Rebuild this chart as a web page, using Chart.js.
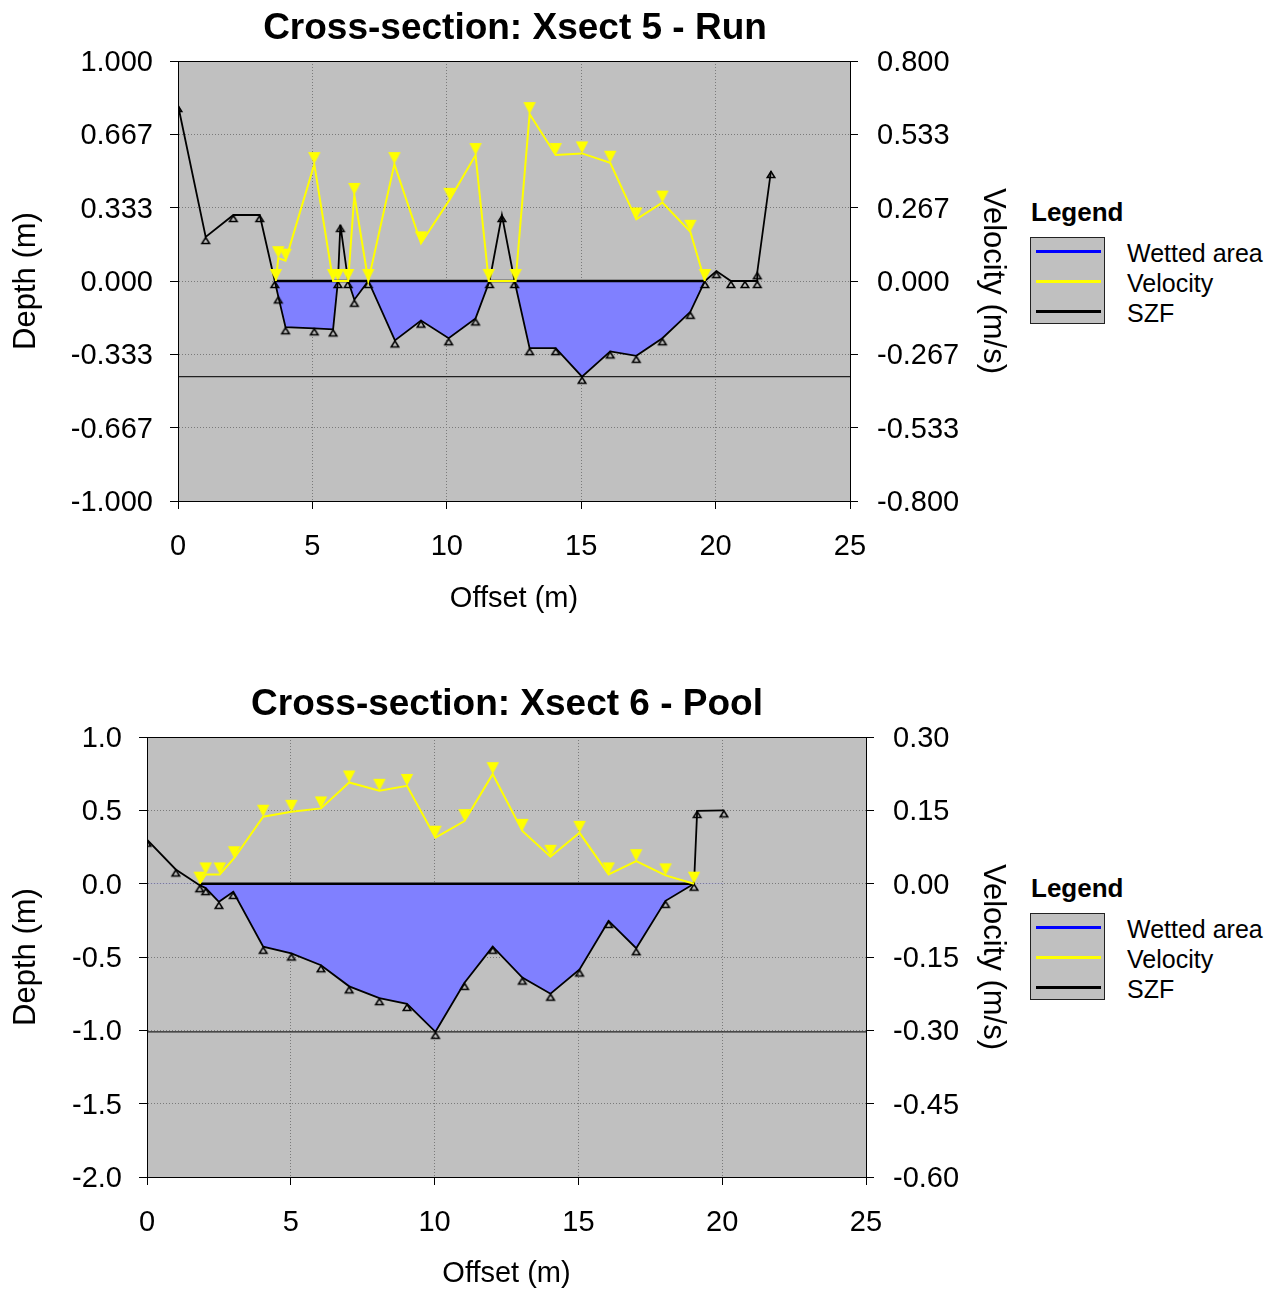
<!DOCTYPE html>
<html>
<head>
<meta charset="utf-8">
<script src="https://cdn.jsdelivr.net/npm/chart.js@4.4.1/dist/chart.umd.min.js"></script>
<style>
  html, body { margin:0; padding:0; background:#fff; }
  body { width:1281px; height:1291px; position:relative; overflow:hidden; font-family:"Liberation Sans", Arial, sans-serif; }
  canvas { position:absolute; left:0; }
  #c1 { top:0; }
  #c2 { top:640px; }
  .lg { position:absolute; left:1030px; width:250px; height:140px; }
  .lg .ttl { position:absolute; left:1px; top:1px; font-weight:bold; font-size:26px; line-height:30px; color:#000; }
  .lg .box { position:absolute; left:0; top:41px; width:73px; height:85px; background:#c0c0c0; border:1.5px solid #222; }
  .lg .ln { position:absolute; left:5px; width:65px; height:3px; }
  .lg .lab { position:absolute; left:97px; font-size:25px; line-height:30px; color:#000; white-space:nowrap; }
</style>
</head>
<body>
<canvas id="c1" width="1030" height="640"></canvas>
<canvas id="c2" width="1014" height="651"></canvas>

<div class="lg" style="top:196px;">
  <div class="ttl">Legend</div>
  <div class="box">
    <div class="ln" style="top:12px;background:#0000ff;"></div>
    <div class="ln" style="top:42px;background:#ffff00;"></div>
    <div class="ln" style="top:72px;background:#000;"></div>
  </div>
  <div class="lab" style="top:42px;">Wetted area</div>
  <div class="lab" style="top:72px;">Velocity</div>
  <div class="lab" style="top:102px;">SZF</div>
</div>
<div class="lg" style="top:872px;">
  <div class="ttl">Legend</div>
  <div class="box">
    <div class="ln" style="top:12px;background:#0000ff;"></div>
    <div class="ln" style="top:42px;background:#ffff00;"></div>
    <div class="ln" style="top:72px;background:#000;"></div>
  </div>
  <div class="lab" style="top:42px;">Wetted area</div>
  <div class="lab" style="top:72px;">Velocity</div>
  <div class="lab" style="top:102px;">SZF</div>
</div>

<script>
// ===== Data: Xsect 5 - Run =====
const title5 = 'Cross-section: Xsect 5 - Run';
const bedOffset5 = [0, 1.03, 2.06, 3.04, 3.6, 3.73, 4.0, 5.07, 5.77, 5.95, 6.04, 6.33, 6.56, 7.08, 8.07, 9.04, 10.07, 11.07, 11.59, 12.05, 12.52, 13.08, 14.05, 15.03, 16.08, 17.05, 18.02, 19.06, 19.6, 20.03, 20.57, 21.09, 21.55, 21.55, 22.06];
const bedDepth5  = [0.80, 0.20, 0.30, 0.30, 0.0, -0.07, -0.21, -0.215, -0.22, 0.0, 0.255, 0.0, -0.085, 0.0, -0.27, -0.18, -0.26, -0.17, 0.0, 0.30, 0.0, -0.305, -0.305, -0.435, -0.32, -0.34, -0.26, -0.14, 0.0, 0.045, 0.0, 0.0, 0.0, 0.04, 0.50];
const velOffset5 = [3.64, 3.73, 4.0, 5.07, 5.77, 5.95, 6.33, 6.56, 7.08, 8.05, 9.04, 10.1, 11.07, 11.56, 12.56, 13.08, 14.05, 15.03, 16.08, 17.05, 18.02, 19.06, 19.6];
const velocity5  = [0, 0.083, 0.074, 0.425, 0, 0, 0, 0.313, 0, 0.425, 0.137, 0.295, 0.458, 0, 0, 0.607, 0.458, 0.464, 0.43, 0.224, 0.285, 0.179, 0];
const waterEdges5 = [3.6, 19.6];
const maxDepth5 = -0.435;
const depthTicks5 = ['-1.000', '-0.667', '-0.333', '0.000', '0.333', '0.667', '1.000'];
const velTicks5   = ['-0.800', '-0.533', '-0.267', '0.000', '0.267', '0.533', '0.800'];

// ===== Data: Xsect 6 - Pool =====
const title6 = 'Cross-section: Xsect 6 - Pool';
const bedOffset6 = [0, 1.0, 1.83, 2.04, 2.5, 3.0, 4.04, 5.02, 6.05, 7.03, 8.08, 9.04, 10.03, 11.04, 12.02, 13.05, 14.03, 15.04, 16.05, 17.01, 18.03, 19.02, 19.13, 20.06];
const bedDepth6  = [0.30, 0.097, -0.01, -0.03, -0.124, -0.056, -0.43, -0.476, -0.556, -0.70, -0.78, -0.82, -1.01, -0.676, -0.43, -0.64, -0.75, -0.585, -0.254, -0.44, -0.117, 0.0, 0.496, 0.50];
const velOffset6 = [1.83, 2.04, 2.53, 3.03, 4.04, 5.02, 6.05, 7.03, 8.08, 9.04, 10.03, 11.04, 12.02, 13.05, 14.03, 15.04, 16.05, 17.01, 18.03, 19.02];
const velocity6  = [0, 0.019, 0.019, 0.052, 0.137, 0.147, 0.154, 0.207, 0.19, 0.20, 0.094, 0.128, 0.224, 0.108, 0.055, 0.104, 0.019, 0.046, 0.017, 0];
const waterEdges6 = [1.83, 19.02];
const maxDepth6 = -1.01;
const depthTicks6 = ['-2.0', '-1.5', '-1.0', '-0.5', '0.0', '0.5', '1.0'];
const velTicks6   = ['-0.60', '-0.45', '-0.30', '-0.15', '0.00', '0.15', '0.30'];

const offsetTicks = ['0', '5', '10', '15', '20', '25'];

// ===== Markers =====
function upTriangle() {
  const c = document.createElement('canvas');
  c.width = 12; c.height = 20;
  const g = c.getContext('2d');
  g.strokeStyle = '#000'; g.lineWidth = 1.5;
  g.beginPath(); g.moveTo(6, 10.5); g.lineTo(9.8, 16.6); g.lineTo(2.2, 16.6); g.closePath(); g.stroke();
  return c;
}
function downTriangle() {
  const c = document.createElement('canvas');
  c.width = 14; c.height = 26;
  const g = c.getContext('2d');
  g.fillStyle = '#ffff00';
  g.beginPath(); g.moveTo(7, 13); g.lineTo(13.2, 1); g.lineTo(0.8, 1); g.closePath(); g.fill();
  return c;
}
const UP = upTriangle(), DOWN = downTriangle();

const FONT = '"Liberation Sans", Arial, sans-serif';

const framePlugin = {
  id: 'frame',
  beforeDraw(chart) {
    const { ctx, chartArea: a } = chart;
    ctx.save();
    ctx.fillStyle = '#c0c0c0';
    ctx.fillRect(a.left, a.top, a.right - a.left, a.bottom - a.top);
    ctx.restore();
  },
  afterDraw(chart) {
    const { ctx, chartArea: a } = chart;
    ctx.save();
    ctx.strokeStyle = '#000'; ctx.lineWidth = 1;
    ctx.strokeRect(Math.round(a.left) + 0.5, Math.round(a.top) + 0.5, Math.round(a.right - a.left), Math.round(a.bottom - a.top));
    ctx.restore();
  }
};

function pts(xs, ys) { return xs.map((x, i) => ({ x: x, y: ys[i] })); }

function makeChart(id, cfg) {
  const depthVals = cfg.depthTicks.map(Number);
  const velVals = cfg.velTicks.map(Number);
  const offVals = offsetTicks.map(Number);
  return new Chart(document.getElementById(id), {
    type: 'scatter',
    data: {
      datasets: [
        { label: 'Velocity', yAxisID: 'y2', data: pts(cfg.velOffset, cfg.velocity), showLine: true,
          borderColor: '#ffff00', borderWidth: 2, pointStyle: DOWN, pointRadius: 6, order: 0, fill: false },
        { label: 'Wetted area', yAxisID: 'y', data: pts(cfg.waterEdges, [0, 0]), showLine: true,
          borderColor: '#000', borderWidth: 2.5, pointRadius: 0, order: 1, fill: false },
        { label: 'SZF', yAxisID: 'y', data: pts(cfg.bedOffset, cfg.bedDepth), showLine: true,
          borderColor: '#000', borderWidth: 1.8, pointStyle: UP, pointRadius: 4, order: 2,
          fill: { target: { value: 0 }, above: 'rgba(0,0,0,0)', below: '#8080ff' } },
        { label: 'Max depth', yAxisID: 'y', data: pts([0, 25], [cfg.maxDepth, cfg.maxDepth]), showLine: true,
          borderColor: '#222', borderWidth: 1.3, pointRadius: 0, order: 3, fill: false }
      ]
    },
    options: {
      responsive: false, animation: false, devicePixelRatio: 1,
      layout: { padding: 0 },
      plugins: {
        legend: { display: false }, tooltip: { enabled: false },
        title: { display: true, text: cfg.title, color: '#000',
          font: { family: FONT, size: 37, weight: 'bold', lineHeight: 1.2 },
          padding: { top: cfg.titlePadTop, bottom: cfg.titlePadBottom } }
      },
      scales: {
        x: { type: 'linear', position: 'bottom', min: 0, max: 25,
          afterBuildTicks: s => { s.ticks = offVals.map(v => ({ value: v })); },
          afterFit: s => { s.height = cfg.xHeight; },
          ticks: { color: '#000', font: { family: FONT, size: 29 }, padding: 20.6,
            callback: (v, i) => offsetTicks[i], maxRotation: 0 },
          grid: { color: '#7a7a7a', lineWidth: 1, tickLength: 8, tickColor: '#000', tickBorderDash: [] },
          border: { display: true, color: '#000', width: 1, dash: [1, 2] },
          title: { display: true, text: 'Offset (m)', color: '#000', font: { family: FONT, size: 29, lineHeight: 1.2 },
            padding: { top: 0, bottom: cfg.xTitlePad } } },
        y: { type: 'linear', position: 'left', min: depthVals[0], max: depthVals[depthVals.length - 1],
          afterBuildTicks: s => { s.ticks = depthVals.map(v => ({ value: v })); },
          afterFit: s => { s.width = cfg.yWidth; },
          ticks: { color: '#000', font: { family: FONT, size: 29 }, padding: 17, labelOffset: 2,
            callback: (v, i) => cfg.depthTicks[i] },
          grid: { color: '#7a7a7a', lineWidth: 1, tickLength: 8, tickColor: '#000', tickBorderDash: [] },
          border: { display: true, color: '#000', width: 1, dash: [1, 2] },
          title: { display: true, text: 'Depth (m)', color: '#000', font: { family: FONT, size: 31, lineHeight: 1.2 },
            padding: { top: 8, bottom: 0 } } },
        y2: { type: 'linear', position: 'right', min: velVals[0], max: velVals[velVals.length - 1],
          afterBuildTicks: s => { s.ticks = velVals.map(v => ({ value: v })); },
          afterFit: s => { s.width = cfg.y2Width; },
          ticks: { color: '#000', font: { family: FONT, size: 29 }, padding: 19, labelOffset: 2,
            callback: (v, i) => cfg.velTicks[i] },
          grid: { drawOnChartArea: false, drawTicks: true, tickLength: 8, tickColor: '#000', tickBorderDash: [] },
          border: { display: true, color: '#000', width: 1 },
          title: { display: true, text: 'Velocity (m/s)', color: '#000', font: { family: FONT, size: 31, lineHeight: 1.2 },
            padding: { top: cfg.y2TitlePad, bottom: 0 } } }
      }
    },
    plugins: [framePlugin]
  });
}

makeChart('c1', {
  title: title5, bedOffset: bedOffset5, bedDepth: bedDepth5, velOffset: velOffset5, velocity: velocity5,
  waterEdges: waterEdges5, maxDepth: maxDepth5, depthTicks: depthTicks5, velTicks: velTicks5,
  titlePadTop: 6.5, titlePadBottom: 10.1, xHeight: 139, yWidth: 178, y2Width: 180, xTitlePad: 23.6, y2TitlePad: 18.5
});
makeChart('c2', {
  title: title6, bedOffset: bedOffset6, bedDepth: bedDepth6, velOffset: velOffset6, velocity: velocity6,
  waterEdges: waterEdges6, maxDepth: maxDepth6, depthTicks: depthTicks6, velTicks: velTicks6,
  titlePadTop: 43, titlePadBottom: 9.6, xHeight: 114, yWidth: 147, y2Width: 148, xTitlePad: 0, y2TitlePad: 2.5
});
</script>
</body>
</html>
